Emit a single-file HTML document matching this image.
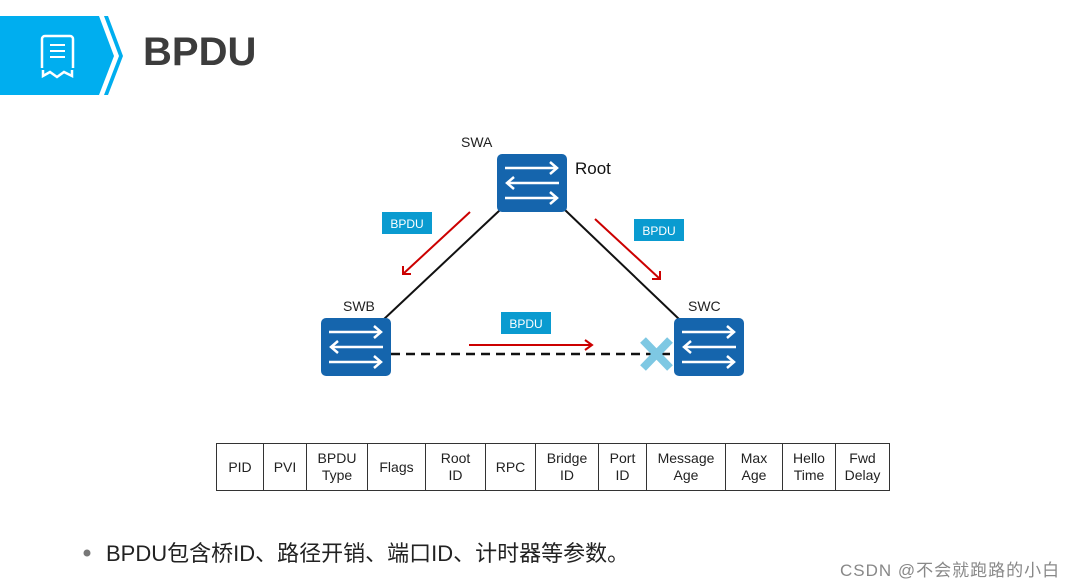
<!DOCTYPE html>
<html><head><meta charset="utf-8"><style>
body{margin:0;width:1084px;height:585px;background:#fff;position:relative;overflow:hidden;font-family:"Liberation Sans","Noto Sans CJK SC",sans-serif}
.t{position:absolute}
table{position:absolute;left:216px;top:443px;border-collapse:collapse;font-size:14px;color:#222}
td{border:1px solid #333;height:46px;text-align:center;padding:0;line-height:17px}
</style></head><body>
<svg width="1084" height="585" style="position:absolute;left:0;top:0">
<defs><g id="sw">
<rect x="0" y="0" width="70" height="58" rx="5" fill="#1565ad"/>
<g stroke="#fff" stroke-width="2.5" fill="none">
<line x1="8" y1="14" x2="60" y2="14"/><path d="M53 8 L60 14 L53 20"/>
<line x1="10" y1="29" x2="62" y2="29"/><path d="M17 23 L10 29 L17 35"/>
<line x1="8" y1="44" x2="60" y2="44"/><path d="M53 38 L60 44 L53 50"/>
</g></g></defs>
<polygon points="0,16 99,16 114,56 99,95 0,95" fill="#00aeef"/>
<polygon points="104,16 108,16 123,56 108,95 104,95 119,56" fill="#00aeef"/>
<rect x="42" y="36" width="31" height="36" rx="3" fill="none" stroke="#fff" stroke-width="2.5"/>
<rect x="40" y="68" width="35" height="8" fill="#00aeef"/>
<path d="M43 70 L43 76 L50 72 L57 77 L64 72 L72 76 L72 70" fill="none" stroke="#fff" stroke-width="2.5"/>
<line x1="50" y1="45" x2="65" y2="45" stroke="#fff" stroke-width="2"/>
<line x1="50" y1="51" x2="65" y2="51" stroke="#fff" stroke-width="2"/>
<line x1="50" y1="57" x2="65" y2="57" stroke="#fff" stroke-width="2"/>
<line x1="500" y1="210" x2="383" y2="320" stroke="#111" stroke-width="2"/>
<line x1="565" y1="210" x2="680" y2="320" stroke="#111" stroke-width="2"/>
<line x1="391" y1="354" x2="674" y2="354" stroke="#111" stroke-width="2.5" stroke-dasharray="9,6"/>
<g stroke="#c00" stroke-width="2" fill="none">
<line x1="470" y1="212" x2="403" y2="274"/><path d="M403 266 L403 274 L411 274"/>
<line x1="595" y1="219" x2="660" y2="279"/><path d="M652 279 L660 279 L660 271"/>
<line x1="469" y1="345" x2="592" y2="345"/><path d="M585 340 L592 345 L585 350"/>
</g>
<g stroke="#7ec8e3" stroke-width="8"><line x1="643" y1="340" x2="670" y2="368"/><line x1="670" y1="340" x2="643" y2="368"/></g>
<use href="#sw" transform="translate(497,154)"/>
<use href="#sw" transform="translate(321,318)"/>
<use href="#sw" transform="translate(674,318)"/>
<rect x="382" y="212" width="50" height="22" fill="#0a9bd0"/>
<rect x="634" y="219" width="50" height="22" fill="#0a9bd0"/>
<rect x="501" y="312" width="50" height="22" fill="#0a9bd0"/>
<g fill="#fff" font-size="12" text-anchor="middle"><text x="407" y="228">BPDU</text><text x="659" y="235">BPDU</text><text x="526" y="328">BPDU</text></g>
<g fill="#222" font-size="14"><text x="461" y="147">SWA</text><text x="343" y="311">SWB</text><text x="688" y="311">SWC</text></g>
<text x="575" y="174" font-size="17" fill="#111">Root</text>
<circle cx="87" cy="553" r="3.5" fill="#777"/>
</svg>
<div class="t" style="left:143px;top:30px;font-size:40px;font-weight:bold;color:#3c3c3c">BPDU</div>
<table><tr>
<td style="width:46px">PID</td><td style="width:42px">PVI</td><td style="width:60px">BPDU<br>Type</td><td style="width:57px">Flags</td><td style="width:59px">Root<br>ID</td><td style="width:49px">RPC</td><td style="width:62px">Bridge<br>ID</td><td style="width:47px">Port<br>ID</td><td style="width:78px">Message<br>Age</td><td style="width:56px">Max<br>Age</td><td style="width:52px">Hello<br>Time</td><td style="width:53px">Fwd<br>Delay</td>
</tr></table>
<div class="t" style="left:106px;top:536px;font-size:22px;color:#222">BPDU包含桥ID、路径开销、端口ID、计时器等参数。</div>
<div class="t" style="left:840px;top:556px;font-size:17px;letter-spacing:1px;color:#888">CSDN @不会就跑路的小白</div>
</body></html>
